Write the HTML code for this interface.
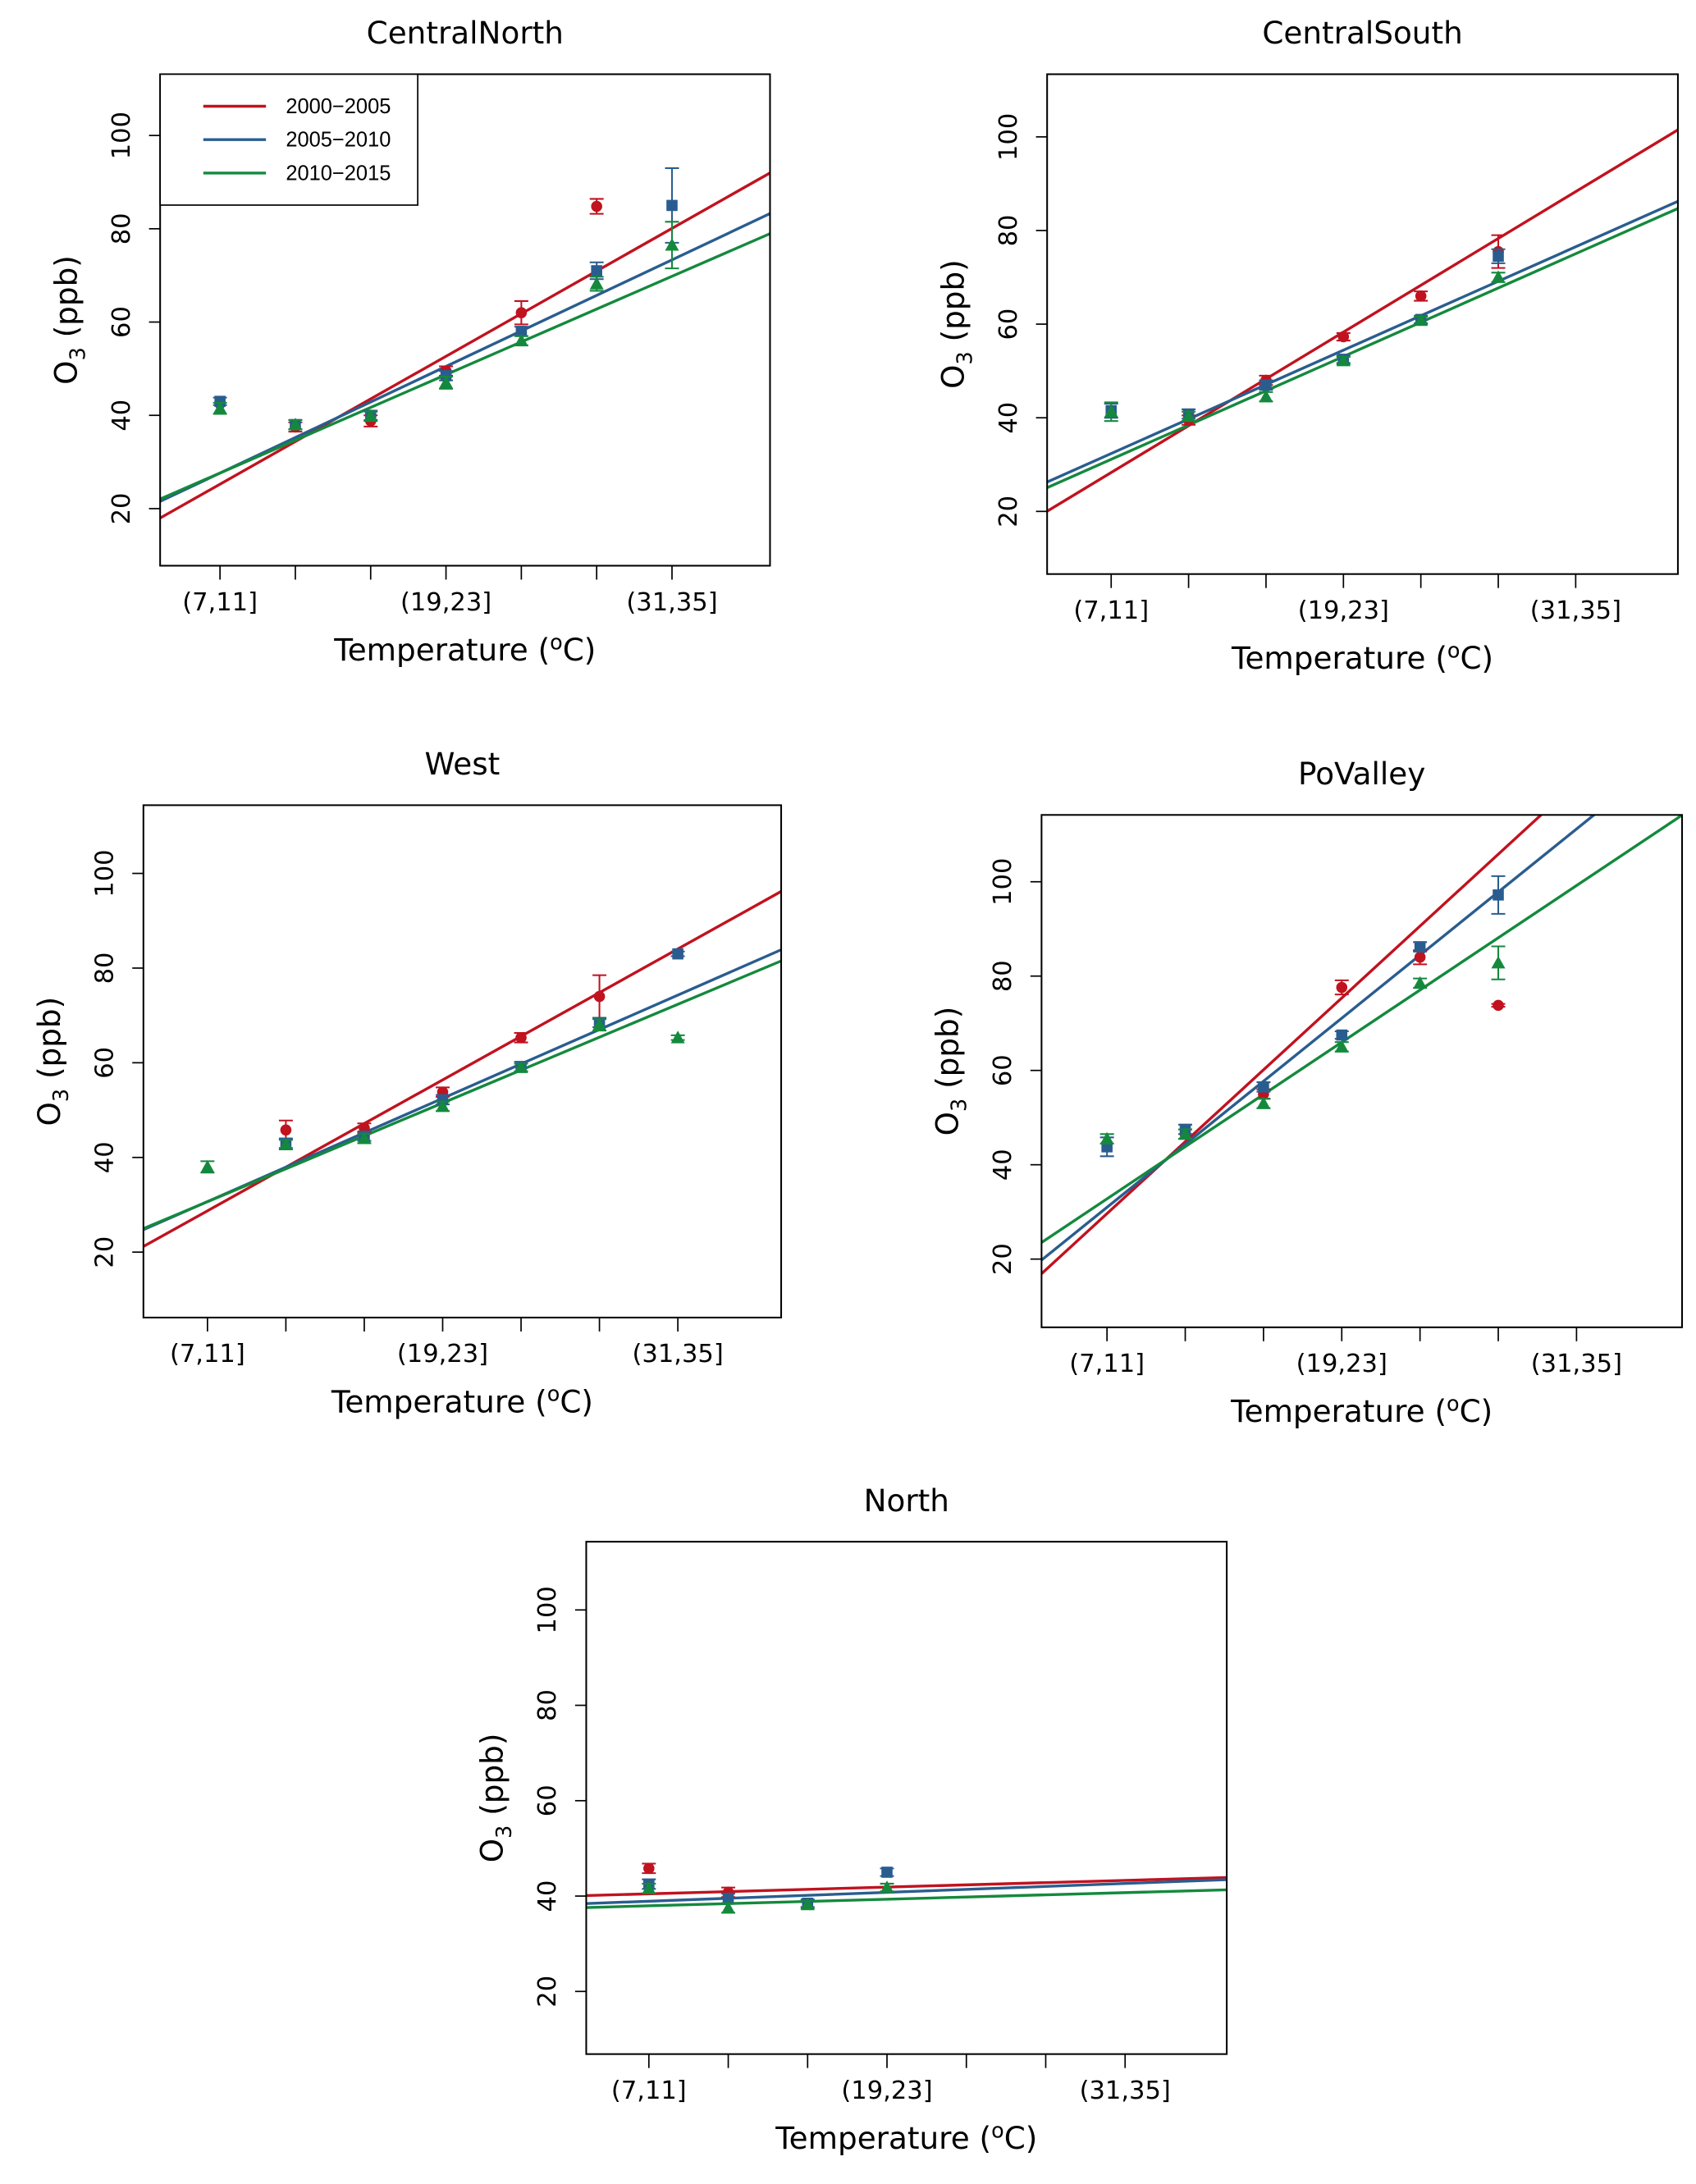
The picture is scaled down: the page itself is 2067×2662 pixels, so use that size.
<!DOCTYPE html>
<html><head><meta charset="utf-8"><style>
html,body{margin:0;padding:0;background:#fff;}
svg{display:block;font-family:"DejaVu Sans","Liberation Sans",sans-serif;}
</style></head><body>
<svg id="chart" width="2067" height="2662" viewBox="0 0 1218 1568" xmlns="http://www.w3.org/2000/svg"></svg>
<script>
const categories = ["(7,11]","(11,15]","(15,19]","(19,23]","(23,27]","(27,31]","(31,35]"];
const xTickLabels = ["(7,11]","","","(19,23]","","","(31,35]"];
const yTicks = [20,40,60,80,100];
const periods = ["2000\u22122005","2005\u22122010","2010\u22122015"];
const regions = ["CentralNorth","CentralSouth","West","PoValley","North"];
// values per region, per period (null = missing)
const cnRed   = [42.5,37.5,38.8,49.5,62,84.8,null];
const cnBlue  = [43,38,40,48.5,58,71,85];
const cnGreen = [41.5,38,39.8,47,56,68.2,76.5];
const csRed   = [null,39.5,48,57.3,66,75.5,null];
const csBlue  = [41.5,40.8,47,52.5,61,74.5,null];
const csGreen = [41.3,40.3,44.5,52.2,60.8,70,null];
const wRed    = [null,45.8,46.2,53.8,65.3,74,null];
const wBlue   = [null,43,44.5,52.2,59.2,68.5,83];
const wGreen  = [38,42.7,44,50.8,59,68,65.3];
const pvRed   = [null,46.5,55,77.6,84,73.8,null];
const pvBlue  = [43.8,47.5,56.5,67.5,86.2,97.2,null];
const pvGreen = [45.5,46.5,53,65,78.5,82.8,null];
const nRed    = [45.8,40.8,null,null,null,null,null];
const nBlue   = [42.5,39.5,38.5,45,null,null,null];
const nGreen  = [41.6,37.5,38.2,41.8,null,null,null];
// error half-widths
const cnErr = [[0,1,1.2,1,2.5,1.6,0],[0.8,1,1,1,1,1.8,8],[1.2,1,1,1.3,1,1.5,5]];
const csErr = [[0,1,1,0.8,1,3.5,0],[1.5,1,1,0.8,0.8,1.5,0],[2,1,1,0.8,0.8,1,0]];
const wErr  = [[0,2,1,1,1,4.5,0],[0,1,1,1,1,1,0.5],[1.2,1,1,1,0.8,1.2,0.5]];
const pvErr = [[0,1,1,1.5,1.5,0.3,0],[2,1,1,0.8,1,4,0],[1,1,1,1,1,3.5,0]];
const nErr  = [[1,1,0,0,0,0,0],[1,1,0.8,0.8,0,0,0],[1,1,0.8,0.8,0,0,0]];
// regression intercepts/slopes (O3 vs category index)
const cnInt = [16.1,20.0,20.6], cnSlope = [9.14,7.62,7.03];
const csInt = [18.3,25.0,23.8], csSlope = [10.0,7.36,7.32];
const wInt  = [19.5,23.4,23.7], wSlope  = [9.22,7.27,6.95];
const pvInt = [14.4,17.6,21.7], pvSlope = [15.24,13.37,11.07];
const nInt  = [40.0,38.3,37.5], nSlope  = [0.47,0.62,0.46];

const regionValues = [[cnRed,cnBlue,cnGreen],[csRed,csBlue,csGreen],[wRed,wBlue,wGreen],[pvRed,pvBlue,pvGreen],[nRed,nBlue,nGreen]];
const regionErr = [cnErr,csErr,wErr,pvErr,nErr];
const regionInt = [cnInt,csInt,wInt,pvInt,nInt];
const regionSlope = [cnSlope,csSlope,wSlope,pvSlope,nSlope];

const layout = [
 {l:115,r:553,t:53,b:406,tick1:158,sp:54.1,y20:365,y100:97},
 {l:752,r:1205,t:53,b:412,tick1:798,sp:55.6,y20:367,y100:98},
 {l:103,r:561,t:578,b:946,tick1:149,sp:56.3,y20:899,y100:627},
 {l:748,r:1208,t:585,b:953,tick1:795,sp:56.2,y20:904,y100:633},
 {l:421,r:881,t:1107,b:1475,tick1:466,sp:57,y20:1430,y100:1156}
];
const colors = ["#c1121f","#2a5d8f","#14893d"];
const svg = document.getElementById('chart');
const NS = "http://www.w3.org/2000/svg";
function mk(tag, attrs, parent){const e=document.createElementNS(NS,tag);for(const k in attrs)e.setAttribute(k,attrs[k]);(parent||svg).appendChild(e);return e;}

regions.forEach((name,ri)=>{
  const L = layout[ri];
  const g = mk('g',{});
  
  
  const xs = i => L.tick1 + L.sp*i;
  const xv = v => L.tick1 + L.sp*(v-1);
  const ys = v => L.y20 - (v-20)*(L.y20-L.y100)/80;
  const xMinV = 1 + (L.l - L.tick1)/L.sp, xMaxV = 1 + (L.r - L.tick1)/L.sp;
  const cx = (L.l+L.r)/2;
  const title = mk('text',{x:cx,y:L.t-22,'text-anchor':'middle','font-size':22},g);
  title.textContent = name;
  
  
  const cp = mk('clipPath',{id:'clip'+ri},g);
  mk('rect',{x:L.l,y:L.t,width:L.r-L.l,height:L.b-L.t},cp);
  yTicks.forEach(v=>{
    const y=ys(v);
    mk('line',{x1:L.l-8,x2:L.l,y1:y,y2:y,stroke:'#000','stroke-width':1},g);
    const t=mk('text',{x:L.l-22,y:y,'text-anchor':'middle','font-size':18,transform:`rotate(-90 ${L.l-22} ${y})`},g);
    t.textContent=v;
    
    
  });
  categories.forEach((c,i)=>{
    const x=xs(i);
    mk('line',{x1:x,x2:x,y1:L.b,y2:L.b+10,stroke:'#000','stroke-width':1},g);
    if(xTickLabels[i]){
      const t=mk('text',{x:x,y:L.b+32,'text-anchor':'middle','font-size':18},g);
      t.textContent=xTickLabels[i];
      
      
    }
  });
  const xt=mk('text',{x:cx,y:L.b+68,'text-anchor':'middle','font-size':22},g);
  xt.innerHTML='Temperature  (<tspan font-size="15" dy="-8">o</tspan><tspan dy="8">C)</tspan>';
  
  
  const ymid=(L.t+L.b)/2, yx=L.l-60;
  const yt=mk('text',{x:yx,y:ymid,'text-anchor':'middle','font-size':22,transform:`rotate(-90 ${yx} ${ymid})`},g);
  yt.innerHTML='O<tspan font-size="15" dy="6">3</tspan><tspan dy="-6">  (ppb)</tspan>';
  
  
  const cl = mk('g',{'clip-path':`url(#clip${ri})`},g);
  [0,1,2].forEach(p=>{
    const a=regionInt[ri][p], b=regionSlope[ri][p];
    const ln=mk('line',{x1:xv(xMinV),y1:ys(a+b*xMinV),x2:xv(xMaxV),y2:ys(a+b*xMaxV),stroke:colors[p],'stroke-width':2},cl);
    
    
  });
  [0,1,2].forEach(p=>{
    regionValues[ri][p].forEach((v,i)=>{
      if(v===null) return;
      const x=xs(i), y=ys(v), e=regionErr[ri][p][i];
      if(e>0){
        const y1=ys(v+e), y2=ys(v-e);
        mk('line',{x1:x,x2:x,y1:y1,y2:y2,stroke:colors[p],'stroke-width':1.2},cl);
        mk('line',{x1:x-5,x2:x+5,y1:y1,y2:y1,stroke:colors[p],'stroke-width':1.2},cl);
        mk('line',{x1:x-5,x2:x+5,y1:y2,y2:y2,stroke:colors[p],'stroke-width':1.2},cl);
      }
      let m;
      if(p===0) m=mk('circle',{cx:x,cy:y,r:4,fill:colors[p]},cl);
      else if(p===1) m=mk('rect',{x:x-4,y:y-4,width:8,height:8,fill:colors[p]},cl);
      else m=mk('polygon',{points:`${x},${y-5} ${x-5},${y+4} ${x+5},${y+4}`,fill:colors[p]},cl);
      
      
    });
  });
  const box=mk('rect',{x:L.l,y:L.t,width:L.r-L.l,height:L.b-L.t,fill:'none',stroke:'#000','stroke-width':1.2},g);
  
  
  if(ri===0){
    const lg=mk('g',{},g);
    
    
    mk('rect',{x:L.l,y:L.t,width:185,height:94,fill:'#fff',stroke:'#000','stroke-width':1},lg);
    periods.forEach((pname,p)=>{
      const y=L.t+23+p*24;
      mk('line',{x1:L.l+31,x2:L.l+76,y1:y,y2:y,stroke:colors[p],'stroke-width':2},lg);
      const t=mk('text',{x:L.l+128,y:y+5,'text-anchor':'middle','font-size':15,'font-family':'Liberation Sans, sans-serif'},lg);
      t.textContent=pname;
      
      
    });
  }
});
</script>
</body></html>
